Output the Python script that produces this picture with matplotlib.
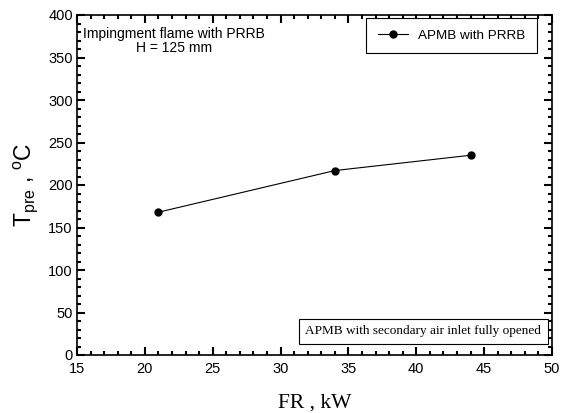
import matplotlib
matplotlib.use("Agg")
import matplotlib.pyplot as plt
from matplotlib.ticker import MultipleLocator

# donnees
fr_kw = [21, 34, 44]
t_pre = [168, 217, 235]
series_label = "APMB with PRRB"

plt.rcParams["font.family"] = ["Liberation Sans", "DejaVu Sans"]

fig = plt.figure(figsize=(5.69, 4.13), dpi=100)
ax = fig.add_axes([77 / 569, 1 - 355 / 413, (552 - 77) / 569, (355 - 15) / 413])

ax.plot(fr_kw, t_pre, color="black", lw=0.8, marker="o", ms=5, label=series_label)

ax.set_xlim(15, 50)
ax.set_ylim(0, 400)
ax.xaxis.set_major_locator(MultipleLocator(5))
ax.xaxis.set_minor_locator(MultipleLocator(1))
ax.yaxis.set_major_locator(MultipleLocator(50))
ax.yaxis.set_minor_locator(MultipleLocator(10))
ax.tick_params(which="both", direction="in", top=True, right=True, width=1.5, labelsize=10.5)
ax.tick_params(which="major", length=6)
ax.tick_params(which="minor", length=3)
ax.tick_params(axis="x", pad=5)
ax.tick_params(axis="y", pad=3)
for s in ax.spines.values():
    s.set_linewidth(1.2)

ax.set_xlabel("FR , kW", family="Liberation Serif", fontsize=15.5, va="baseline")
ax.xaxis.set_label_coords(0.5, -(408 - 355) / 340)
ax.set_ylabel("T$_{\\mathregular{pre}}$ , $^{\\mathregular{o}}$C", fontsize=16.5, labelpad=6)

ax.text(0.205, 0.965, "Impingment flame with PRRB\nH = 125 mm", transform=ax.transAxes,
        ha="center", va="top", fontsize=10, linespacing=1.0)

leg = ax.legend(loc="upper right", fontsize=9.7, fancybox=False, edgecolor="black",
                framealpha=1, borderpad=0.85, handlelength=2.2, borderaxespad=0,
                bbox_to_anchor=((537 - 77) / 475, 1 - 3 / 340))
leg.get_frame().set_linewidth(0.8)

ax.text(0.977, 0.052, "APMB with secondary air inlet fully opened", transform=ax.transAxes,
        ha="right", va="bottom", family="Liberation Serif", fontsize=9.5,
        bbox=dict(boxstyle="square,pad=0.5", fc="white", ec="black", lw=0.8))

fig.savefig("out.png", dpi=100)
